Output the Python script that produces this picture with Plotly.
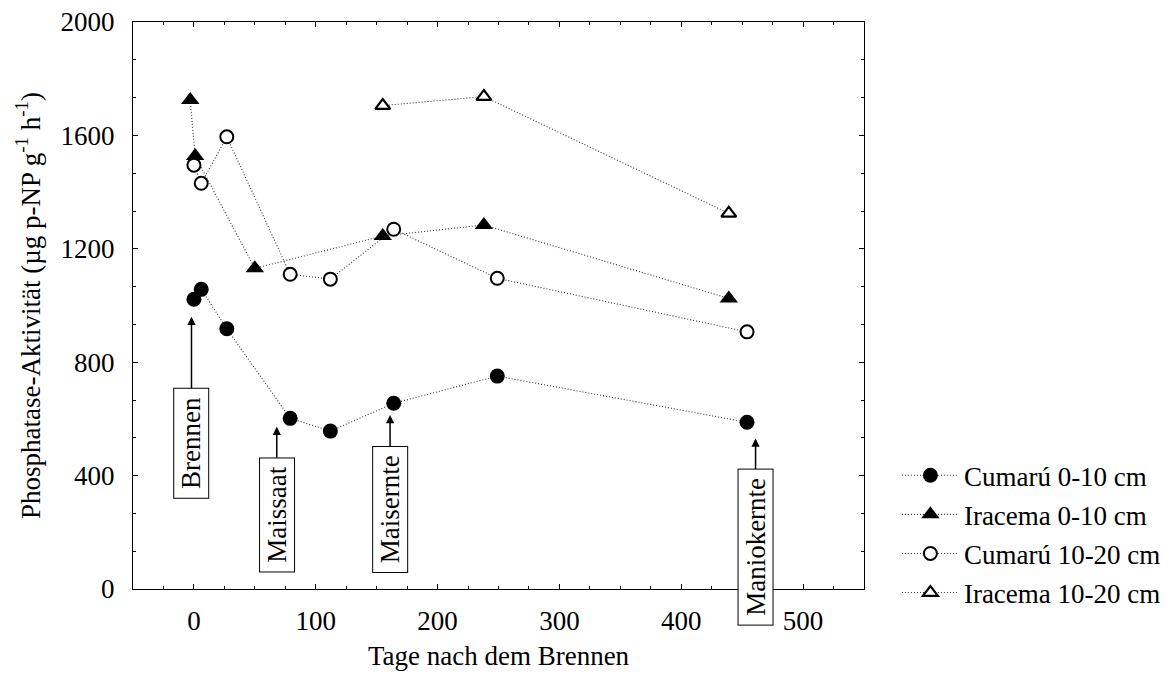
import plotly.graph_objects as go

# ---- data ----
cumaru_0_10_days = [0, 6, 27, 79, 112, 164, 249, 454]
cumaru_0_10_vals = [1022, 1057, 918, 602, 557, 655, 751, 588]

iracema_0_10_days = [-3, 1, 50, 155, 238, 439]
iracema_0_10_vals = [1725, 1527, 1131, 1245, 1284, 1025]

cumaru_10_20_days = [0, 6, 27, 79, 112, 164, 249, 454]
cumaru_10_20_vals = [1495, 1431, 1595, 1110, 1093, 1269, 1096, 907]

iracema_10_20_days = [155, 238, 439]
iracema_10_20_vals = [1705, 1737, 1325]

series_names = ["Cumarú 0-10 cm", "Iracema 0-10 cm", "Cumarú 10-20 cm", "Iracema 10-20 cm"]

event_labels = ["Brennen", "Maissaat", "Maisernte", "Maniokernte"]
event_days = [-2, 68, 161, 461]
event_arrow_tips = [960, 572, 614, 531]

x_tick_vals = [0, 100, 200, 300, 400, 500]
y_tick_vals = [0, 400, 800, 1200, 1600, 2000]

# ---- styling ----
FONT = "Liberation Serif, Times New Roman, serif"
FS = 27
line_style = dict(color="#333333", width=1.1, dash="1px,2px")

event_box_centers = [514, 262, 279, 148]  # layout positions of the label boxes

fig = go.Figure()

styles = [
    dict(symbol="circle", size=15, color="black", line=dict(width=0)),
    dict(symbol="triangle-up", size=16, color="black", line=dict(width=0)),
    dict(symbol="circle", size=13, color="white", line=dict(width=2, color="black")),
    dict(symbol="triangle-up", size=13, color="white", line=dict(width=2.2, color="black")),
]
data = [
    (cumaru_0_10_days, cumaru_0_10_vals),
    (iracema_0_10_days, iracema_0_10_vals),
    (cumaru_10_20_days, cumaru_10_20_vals),
    (iracema_10_20_days, iracema_10_20_vals),
]

for i, ((xs, ys), name, mk) in enumerate(zip(data, series_names, styles)):
    fig.add_trace(go.Scatter(
        x=xs, y=ys, mode="lines+markers", name=name,
        line=line_style, marker=mk, legendgroup=f"g{i}",
        cliponaxis=False,
    ))

for lab, d, tip, c in zip(event_labels, event_days, event_arrow_tips, event_box_centers):
    fig.add_annotation(
        x=d, y=tip, xref="x", yref="y",
        ax=d, ay=c, axref="x", ayref="y",
        text=" " + lab + " ", textangle=-90,
        font=dict(family=FONT, size=FS, color="black"),
        showarrow=True, arrowhead=2, arrowsize=1.1, arrowwidth=1.5, arrowcolor="black",
        bordercolor="black", borderwidth=1, borderpad=2, bgcolor="white",
        standoff=0, startstandoff=0,
    )

axis_common = dict(
    showline=True, linecolor="black", linewidth=1, mirror="ticks",
    ticks="inside", ticklen=5, tickcolor="black", tickwidth=1,
    showgrid=False, zeroline=False,
    tickfont=dict(family=FONT, size=FS, color="black"),
)

fig.update_xaxes(
    **axis_common, range=[-50, 550], tickvals=x_tick_vals,
    minor=dict(ticks="inside", ticklen=3, dtick=25, tick0=0, tickcolor="black", showgrid=False),
    title=dict(text="Tage nach dem Brennen", font=dict(family=FONT, size=FS, color="black"), standoff=10),
    ticklabelstandoff=8,
)
fig.update_yaxes(
    **axis_common, range=[0, 2000], tickvals=y_tick_vals,
    minor=dict(ticks="inside", ticklen=3, dtick=400 / 3, tick0=0, tickcolor="black", showgrid=False),
    title=dict(text="Phosphatase-Aktivität (µg p-NP g<sup>-1</sup> h<sup>-1</sup>)",
               font=dict(family=FONT, size=FS, color="black"), standoff=12),
    ticklabelstandoff=12,
)

fig.update_layout(
    width=1176, height=677,
    margin=dict(l=133, r=312, t=22, b=88, autoexpand=False),
    paper_bgcolor="white", plot_bgcolor="white",
    font=dict(family=FONT, size=FS, color="black"),
    showlegend=True,
    legend=dict(
        x=1.045, y=0.243, xanchor="left", yanchor="top",
        font=dict(family=FONT, size=FS, color="black"),
        itemwidth=57, tracegroupgap=1, bgcolor="rgba(0,0,0,0)",
    ),
)

fig.write_html("out.html")
